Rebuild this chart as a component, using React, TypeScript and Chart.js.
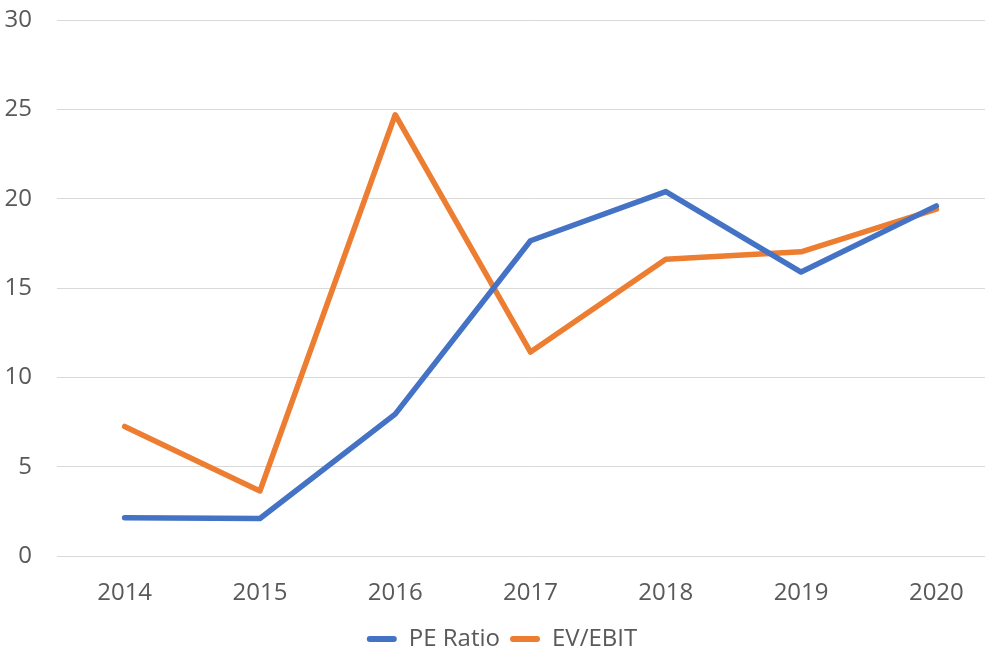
import React, { useEffect, useRef } from "react";
import { Chart, registerables } from "chart.js";

Chart.register(...registerables);

const years = ["2014", "2015", "2016", "2017", "2018", "2019", "2020"];
const peRatio = [2.15, 2.11, 7.95, 17.65, 20.4, 15.9, 19.6];
const evEbit = [7.26, 3.65, 24.7, 11.42, 16.62, 17.03, 19.42];
const yTicks = [0, 5, 10, 15, 20, 25, 30];

const FONT = "'Open Sans', sans-serif";
const GREY = "#595959";

export default function App() {
  const ref = useRef<HTMLCanvasElement | null>(null);

  useEffect(() => {
    if (!ref.current) return;
    const chart = new Chart(ref.current, {
      type: "line",
      data: {
        labels: years,
        datasets: [
          {
            label: "PE Ratio",
            data: peRatio,
            borderColor: "#4472C4",
            backgroundColor: "#4472C4",
            borderWidth: 5.5,
            pointRadius: 0,
            borderCapStyle: "round",
            borderJoinStyle: "round",
            tension: 0,
          },
          {
            label: "EV/EBIT",
            data: evEbit,
            borderColor: "#ED7D31",
            backgroundColor: "#ED7D31",
            borderWidth: 5.5,
            pointRadius: 0,
            borderCapStyle: "round",
            borderJoinStyle: "round",
            tension: 0,
          },
        ],
      },
      options: {
        animation: false,
        responsive: true,
        maintainAspectRatio: false,
        layout: { padding: { top: 20, right: 12, left: 0, bottom: -4 } },
        plugins: {
          tooltip: { enabled: false },
          legend: {
            position: "bottom",
            labels: {
              font: { family: FONT, size: 24 },
              color: GREY,
              boxWidth: 30,
              boxHeight: 6,
              padding: 10,
              useBorderRadius: true,
              borderRadius: 3,
              generateLabels: (c: any) =>
                Chart.defaults.plugins.legend.labels
                  .generateLabels(c)
                  .map((l: any) => ({ ...l, lineWidth: 0 })),
            },
          },
        },
        scales: {
          x: {
            offset: true,
            grid: { display: false, drawTicks: false },
            border: { display: false },
            ticks: {
              font: { family: FONT, size: 24 },
              color: GREY,
              padding: 23,
              maxRotation: 0,
            },
            afterFit: (s: any) => {
              s.height -= 14;
            },
          },
          y: {
            min: 0,
            max: 30,
            afterBuildTicks: (s: any) => {
              s.ticks = yTicks.map((v) => ({ value: v }));
            },
            grid: { color: "#D9D9D9", lineWidth: 1, drawTicks: false },
            border: { display: false },
            ticks: {
              font: { family: FONT, size: 24 },
              color: GREY,
              padding: 25,
            },
            afterFit: (s: any) => {
              s.width = 57;
              s.paddingTop = 0;
              s.paddingBottom = 0;
            },
          },
        },
      },
    });
    return () => chart.destroy();
  }, []);

  return (
    <div
      style={{
        position: "fixed",
        left: 0,
        top: 0,
        width: 985,
        height: 657,
        overflow: "hidden",
        background: "#fff",
      }}
    >
      <div style={{ position: "relative", width: 1016, height: 657 }}>
        <canvas ref={ref} />
      </div>
    </div>
  );
}
